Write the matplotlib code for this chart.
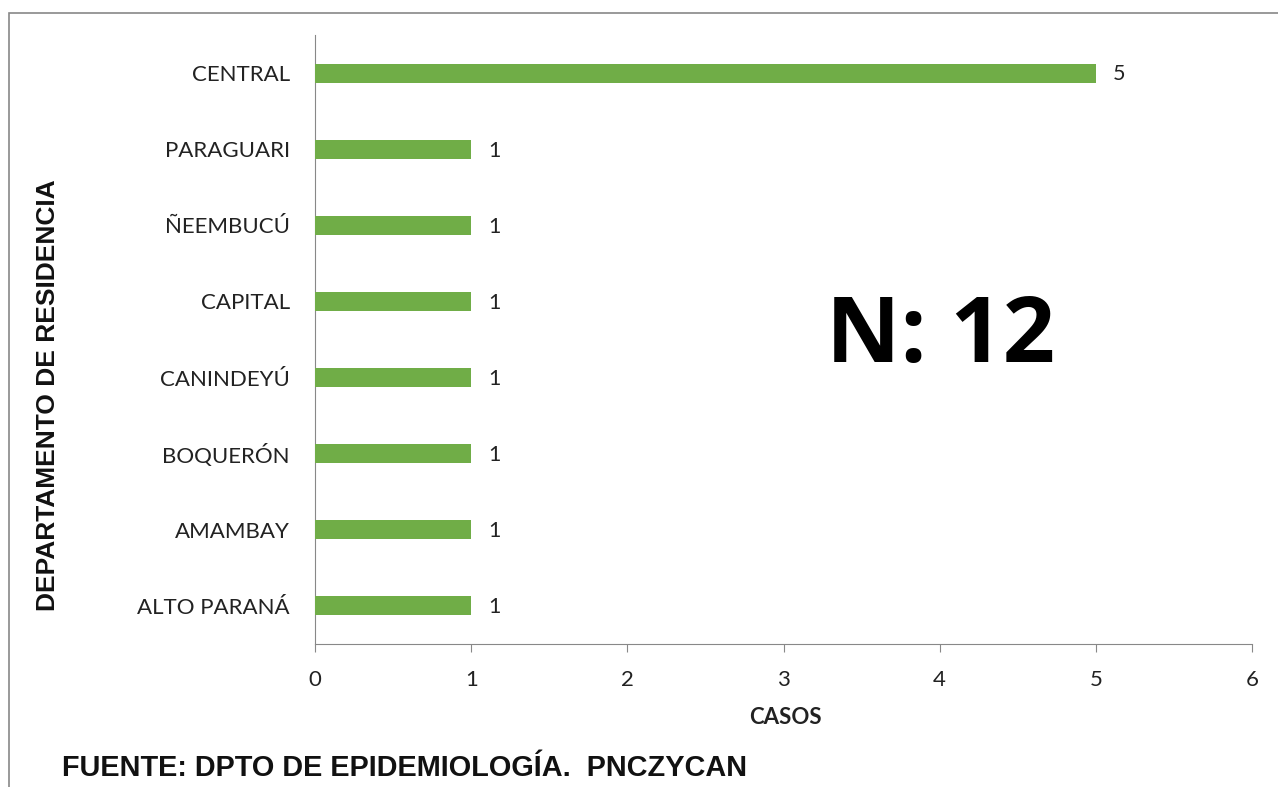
import matplotlib
matplotlib.use("Agg")
import matplotlib.pyplot as plt
from matplotlib.patches import Rectangle

categories = ["ALTO PARANÁ", "AMAMBAY", "BOQUERÓN", "CANINDEYÚ", "CAPITAL", "ÑEEMBUCÚ", "PARAGUARI", "CENTRAL"]
values = [1, 1, 1, 1, 1, 1, 1, 5]
xticks = [0, 1, 2, 3, 4, 5, 6]

fig = plt.figure(figsize=(12.78, 7.87), dpi=100)
ax = fig.add_axes([315/1278, 1-644/787, (1252-315)/1278, (644-35)/787])

ypos = list(range(len(categories)))
ax.barh(ypos, values, height=0.25, color="#70AD47", zorder=3)
ax.set_ylim(-0.5, len(categories)-0.5)
ax.set_xlim(0, 6)
ax.set_xticks(xticks)
ax.set_yticks(ypos)
ax.set_yticklabels(categories)

lab_font = "Lato"
for y, v in zip(ypos, values):
    ax.annotate(str(v), (v, y), xytext=(12, -1), textcoords="offset points",
                va="center", ha="left", fontsize=15.5, family=lab_font, color="#222222")

for s in ["top", "right"]:
    ax.spines[s].set_visible(False)
ax.spines["left"].set_color("#888888")
ax.spines["bottom"].set_color("#888888")
ax.tick_params(axis="y", length=0, pad=18, labelsize=16, labelcolor="#222222")
ax.tick_params(axis="x", length=6, color="#888888", pad=13, labelsize=16, labelcolor="#222222")
for t in ax.get_xticklabels() + ax.get_yticklabels():
    t.set_family(lab_font)

fig.text(785/1278, 1-718/787, "CASOS", ha="center", va="center", fontsize=16,
         fontweight="bold", family=lab_font, color="#222222")
fig.text(48/1278, 1-395/787, "DEPARTAMENTO DE RESIDENCIA", rotation=90, ha="center", va="center",
         fontsize=19, fontweight="bold", family="Liberation Sans", color="#111111")
fig.text(62/1278, 1-768/787, "FUENTE: DPTO DE EPIDEMIOLOGÍA.  PNCZYCAN", ha="left", va="center",
         fontsize=20.8, fontweight="bold", family="Liberation Sans", color="#111111")
fig.text(940/1278, 1-338/787, "N: 12", ha="center", va="center", fontsize=66,
         fontweight="bold", family="Open Sans", color="#000000")

fig.patches.append(Rectangle((9/1278, -0.05), 1.1, 1-13/787+0.05, transform=fig.transFigure,
                             fill=False, edgecolor="#888888", linewidth=1.2))

fig.savefig("out.png", dpi=100)
